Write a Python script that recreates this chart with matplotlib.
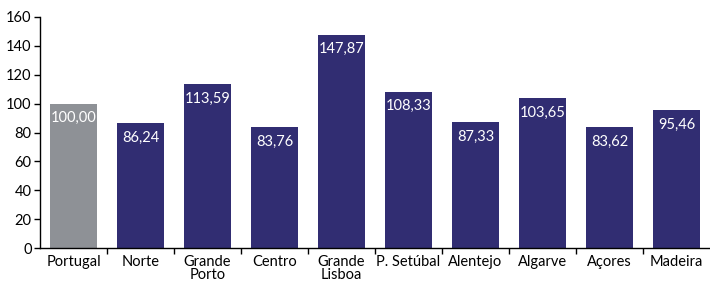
import matplotlib.pyplot as plt
from matplotlib.ticker import FixedLocator, NullFormatter, FixedFormatter

plt.rcParams['font.family'] = ['Lato', 'DejaVu Sans']

regions = ['Portugal', 'Norte', 'Grande\nPorto', 'Centro', 'Grande\nLisboa',
           'P. Setúbal', 'Alentejo', 'Algarve', 'Açores', 'Madeira']
values = [100.00, 86.24, 113.59, 83.76, 147.87, 108.33, 87.33, 103.65, 83.62, 95.46]
value_labels = ['100,00', '86,24', '113,59', '83,76', '147,87',
                '108,33', '87,33', '103,65', '83,62', '95,46']

grey = '#8e9196'
navy = '#312d72'
colors = [grey] + [navy] * (len(values) - 1)

fig = plt.figure(figsize=(7.1, 2.84), dpi=100)
ax = fig.add_axes([40 / 710, 36 / 284, 670 / 710, 231 / 284])

x = list(range(len(values)))
ax.bar(x, values, width=0.69, color=colors, zorder=2)

for xi, v, lab in zip(x, values, value_labels):
    ax.annotate(lab, (xi, v), xytext=(0, -10.5), textcoords='offset points',
                ha='center', va='center', color='white', fontsize=10.5)

ax.set_xlim(-0.5, len(values) - 0.5)
ax.set_ylim(0, 160)
ax.set_yticks(range(0, 161, 20))

# ticks between categories, labels at centres
ax.xaxis.set_major_locator(FixedLocator([i + 0.5 for i in range(len(values) - 1)]))
ax.xaxis.set_major_formatter(NullFormatter())
ax.xaxis.set_minor_locator(FixedLocator(x))
ax.xaxis.set_minor_formatter(FixedFormatter(regions))
ax.tick_params(axis='x', which='minor', length=0, pad=5, labelsize=10.5)
ax.tick_params(axis='x', which='major', length=4, width=1, direction='out')
ax.tick_params(axis='y', length=4, width=1, direction='out', labelsize=10.5, pad=2)
for t in ax.xaxis.get_minor_ticks():
    t.label1.set_linespacing(0.9)

for s in ['top', 'right']:
    ax.spines[s].set_visible(False)
ax.spines['left'].set_linewidth(1)
ax.spines['bottom'].set_linewidth(1)

fig.savefig('out.png', dpi=100)
